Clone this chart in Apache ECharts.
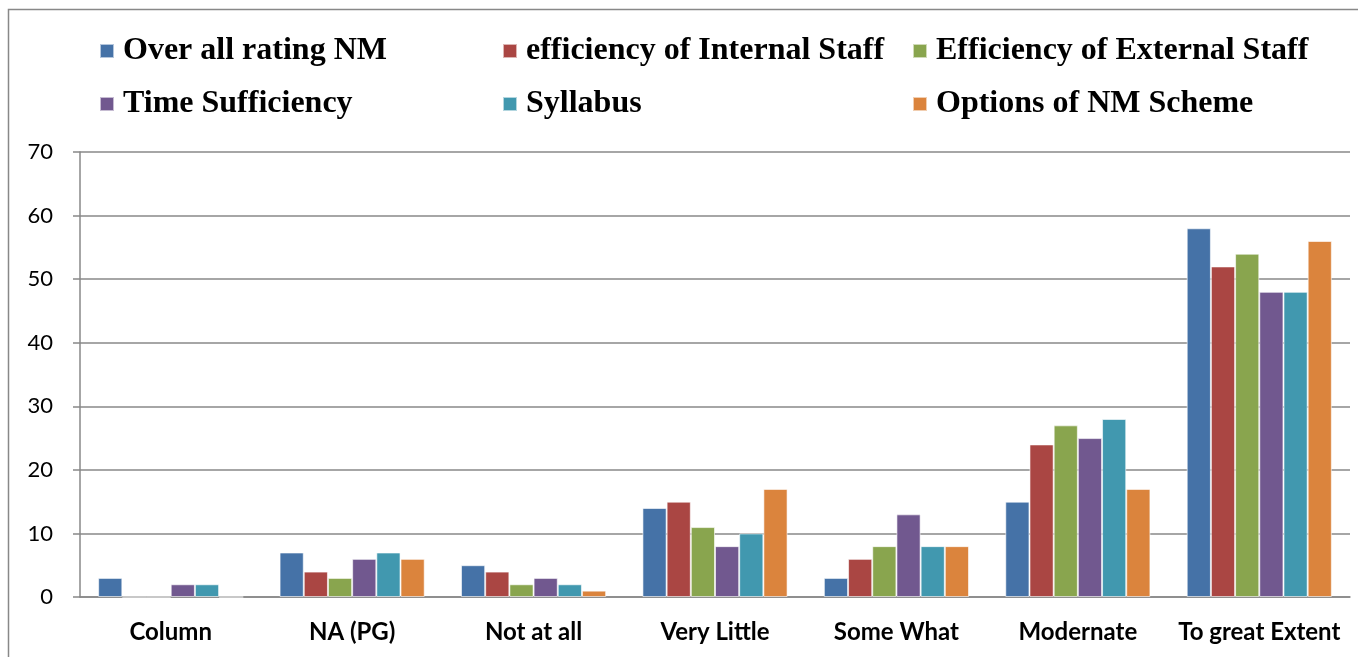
<!DOCTYPE html>
<html>
<head>
<meta charset="utf-8">
<script src="https://cdn.jsdelivr.net/npm/echarts@6/dist/echarts.min.js"></script>
<style>
  html, body { margin: 0; padding: 0; background: #fff; }
  #main { width: 1358px; height: 657px; }
</style>
</head>
<body>
<div id="main"></div>
<script>
const categories = ["Column", "NA (PG)", "Not at all", "Very Little", "Some What", "Modernate", "To great Extent"];
const seriesNames = ["Over all rating NM", "efficiency of Internal Staff", "Efficiency of External Staff", "Time Sufficiency", "Syllabus", "Options of NM Scheme"];
const overAll = [3, 7, 5, 14, 3, 15, 58];
const internalStaff = [0, 4, 4, 15, 6, 24, 52];
const externalStaff = [0, 3, 2, 11, 8, 27, 54];
const timeSuff = [2, 6, 3, 8, 13, 25, 48];
const syllabus = [2, 7, 2, 10, 8, 28, 48];
const options = [0, 6, 1, 17, 8, 17, 56];
const colors = ["#4572A7", "#AA4643", "#89A54E", "#71588F", "#4198AF", "#DB843D"];

var myChart = echarts.init(document.getElementById("main"));

const legendText = {
  fontFamily: "Liberation Serif",
  fontWeight: "bold",
  fontSize: 32,
  color: "#000",
  lineHeight: 30,
  padding: [0, 0, 0, 4]
};
// one vertical legend per column, like the original layout
const legendCols = [
  { left: 99, data: [seriesNames[0], seriesNames[3]] },
  { left: 502, data: [seriesNames[1], seriesNames[4]] },
  { left: 912, data: [seriesNames[2], seriesNames[5]] }
];

const allData = [overAll, internalStaff, externalStaff, timeSuff, syllabus, options];

myChart.setOption({
  animation: false,
  color: colors,
  graphic: [
    {
      type: "rect",
      shape: { x: 8.5, y: 9.5, width: 1400, height: 700 },
      style: { fill: null, stroke: "#888", lineWidth: 1.5 },
      silent: true
    }
  ],
  legend: legendCols.map(c => ({
    left: c.left,
    top: 35,
    padding: 0,
    orient: "vertical",
    itemWidth: 14,
    itemHeight: 14,
    itemGap: 21,
    icon: "rect",
    data: c.data,
    textStyle: legendText
  })),
  grid: { left: 80, right: 8, top: 152, bottom: 60 },
  xAxis: {
    type: "category",
    data: categories,
    axisLine: { lineStyle: { color: "#888", width: 1.5 } },
    axisTick: { length: 9, lineStyle: { color: "#888", width: 1.5 } },
    axisLabel: {
      interval: 0,
      margin: 23,
      fontFamily: "Lato",
      fontWeight: "bold",
      fontSize: 24,
      color: "#000"
    }
  },
  yAxis: {
    type: "value",
    min: 0,
    max: 70,
    interval: 10,
    axisLine: { show: true, lineStyle: { color: "#888", width: 1.5 } },
    axisTick: { show: true, length: 7, lineStyle: { color: "#888", width: 1.5 } },
    splitLine: { lineStyle: { color: "#888", width: 1.5 } },
    axisLabel: {
      margin: 27,
      fontFamily: "Lato",
      fontSize: 22,
      color: "#000"
    }
  },
  series: seriesNames.map((name, i) => ({
    name: name,
    type: "bar",
    data: allData[i],
    barGap: "0%",
    barCategoryGap: "20%",
    itemStyle: { color: colors[i], borderColor: "rgba(255,255,255,0.6)", borderWidth: 1 }
  }))
});
</script>
</body>
</html>
